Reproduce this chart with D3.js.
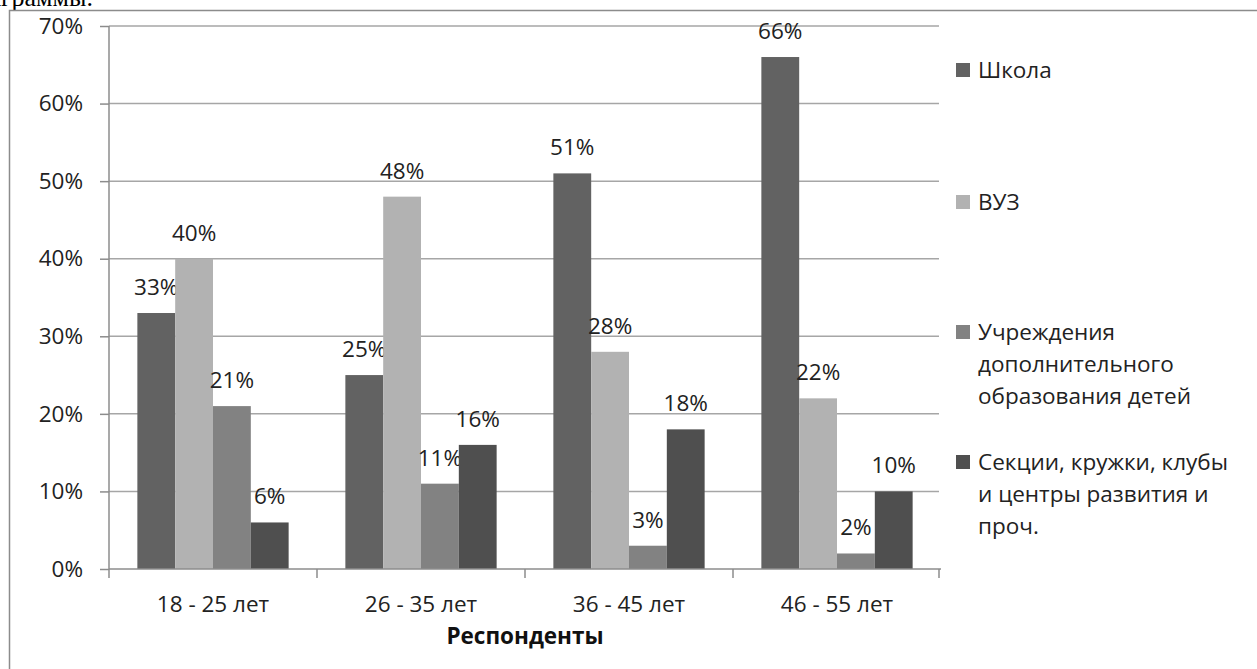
<!DOCTYPE html>
<html>
<head>
<meta charset="utf-8">
<script src="https://cdn.jsdelivr.net/npm/d3@7"></script>
<style>
  html, body { margin: 0; padding: 0; background: #fff; }
  svg { display: block; }
</style>
</head>
<body>
<svg width="1257" height="669"></svg>
<script>
// данные диаграммы
const categories = ['18 - 25 лет', '26 - 35 лет', '36 - 45 лет', '46 - 55 лет'];
const seriesNames = [
    ['Школа'],
    ['ВУЗ'],
    ['Учреждения', 'дополнительного', 'образования детей'],
    ['Секции, кружки, клубы', 'и центры развития и', 'проч.']
];
const seriesColors = ['#626262', '#b2b2b2', '#828282', '#4f4f4f'];
const school = [33, 25, 51, 66];
const univ = [40, 48, 28, 22];
const extra = [21, 11, 3, 2];
const clubs = [6, 16, 18, 10];
const yTicks = [0, 10, 20, 30, 40, 50, 60, 70];

const FONT = '"Open Sans", Lato, sans-serif';
const FS = '22.5px';

function drawChart() {
    const svg = d3.select('svg');
    svg.selectAll('*').remove();

    const area = { left: 109, right: 941, top: 26, bottom: 569 };
    const values = [school, univ, extra, clubs];

    // обрывок строки документа над рамкой
    svg.append('text')
        .attr('x', 93).attr('y', 6)
        .attr('text-anchor', 'end')
        .style('font-family', '"Liberation Serif", serif')
        .style('font-size', '26px')
        .text('диаграммы.');

    // рамка области диаграммы
    svg.append('rect')
        .attr('x', 9.5).attr('y', 10.5)
        .attr('width', 1300).attr('height', 700)
        .attr('fill', 'none')
        .attr('stroke', '#8c8c8c')
        .attr('stroke-width', 1.5);

    const scX = d3.scaleBand()
        .domain(categories)
        .range([area.left, area.right]);

    const bw = scX.bandwidth();
    const gap = bw / (4 + 1.5) * 0.75;
    const scS = d3.scaleBand()
        .domain(d3.range(seriesNames.length))
        .range([gap, bw - gap]);

    const scY = d3.scaleLinear()
        .domain([0, 70])
        .range([area.bottom, area.top]);

    // сетка
    svg.append('g')
        .selectAll('line')
        .data(yTicks.slice(1))
        .enter().append('line')
        .attr('x1', area.left).attr('x2', area.right - 2)
        .attr('y1', d => scY(d)).attr('y2', d => scY(d))
        .attr('stroke', '#a6a6a6')
        .attr('stroke-width', 1.5);

    // ось Y
    const axisY = d3.axisLeft(scY)
        .tickValues(yTicks)
        .tickFormat(d => d + '%')
        .tickSize(9)
        .tickPadding(17);

    const gY = svg.append('g')
        .attr('transform', `translate(${area.left}, 0)`)
        .call(axisY);
    gY.select('.domain').remove();
    gY.selectAll('.tick line').attr('stroke', '#8c8c8c').attr('stroke-width', 1.5);
    gY.selectAll('text')
        .style('font-family', FONT)
        .style('font-size', FS)
        .attr('fill', '#222');
    svg.append('line')
        .attr('x1', area.left).attr('x2', area.left)
        .attr('y1', area.top).attr('y2', area.bottom)
        .attr('stroke', '#8c8c8c').attr('stroke-width', 1.5);

    // столбцы
    for (let s = 0; s < values.length; s++) {
        const g = svg.append('g');
        g.selectAll('rect')
            .data(categories)
            .enter().append('rect')
            .attr('x', (d, i) => scX(d) + scS(s))
            .attr('y', (d, i) => scY(values[s][i]))
            .attr('width', scS.bandwidth())
            .attr('height', (d, i) => scY(0) - scY(values[s][i]))
            .attr('fill', seriesColors[s]);

        g.selectAll('text')
            .data(categories)
            .enter().append('text')
            .attr('x', d => scX(d) + scS(s) + scS.bandwidth() / 2)
            .attr('y', (d, i) => scY(values[s][i]) - 18)
            .attr('text-anchor', 'middle')
            .style('font-family', FONT)
            .style('font-size', FS)
            .attr('fill', '#222')
            .text((d, i) => values[s][i] + '%');
    }

    // ось X
    const gX = svg.append('g');
    gX.append('line')
        .attr('x1', area.left).attr('x2', area.right)
        .attr('y1', area.bottom).attr('y2', area.bottom)
        .attr('stroke', '#8c8c8c').attr('stroke-width', 1.5);
    const tickX = categories.map(d => scX(d)).concat([area.right - 2]);
    gX.selectAll('.tk')
        .data(tickX)
        .enter().append('line')
        .attr('class', 'tk')
        .attr('x1', d => d).attr('x2', d => d)
        .attr('y1', area.bottom).attr('y2', area.bottom + 9)
        .attr('stroke', '#8c8c8c').attr('stroke-width', 1.5);
    gX.selectAll('text')
        .data(categories)
        .enter().append('text')
        .attr('x', d => scX(d) + bw / 2)
        .attr('y', 612)
        .attr('text-anchor', 'middle')
        .style('font-family', FONT)
        .style('font-size', FS)
        .attr('fill', '#222')
        .text(d => d);

    svg.append('text')
        .attr('x', (area.left + area.right) / 2)
        .attr('y', 644)
        .attr('text-anchor', 'middle')
        .style('font-family', FONT)
        .style('font-size', FS)
        .style('font-weight', 'bold')
        .attr('fill', '#111')
        .text('Респонденты');

    // легенда
    const legendY = [70, 202, 332, 462];
    const lineH = 32;
    seriesNames.forEach((lines, s) => {
        const g = svg.append('g');
        g.append('rect')
            .attr('x', 956).attr('y', legendY[s] - 7)
            .attr('width', 14).attr('height', 14)
            .attr('fill', seriesColors[s]);
        g.selectAll('text')
            .data(lines)
            .enter().append('text')
            .attr('x', 978)
            .attr('y', (d, i) => legendY[s] + 8 + i * lineH)
            .style('font-family', FONT)
            .style('font-size', FS)
            .attr('fill', '#222')
            .text(d => d);
    });
}

drawChart();
</script>
</body>
</html>
